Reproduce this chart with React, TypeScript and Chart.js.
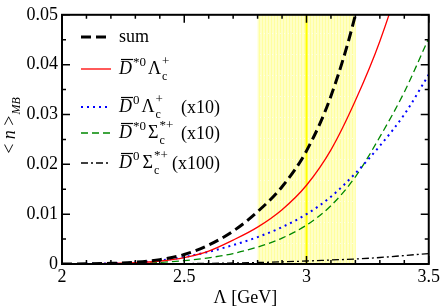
import React, { useEffect, useRef } from "react";
import { Chart, registerables } from "chart.js";

Chart.register(...registerables);

const lambdaGeV = [2.0, 2.1, 2.2, 2.3, 2.4, 2.5, 2.6, 2.7, 2.8, 2.9, 3.0, 3.1, 3.2, 3.3, 3.4, 3.5];
const sumVals = [0, 0.00003, 0.00013, 0.00037, 0.00088, 0.0019, 0.0038, 0.0066, 0.0105, 0.0155, 0.0227, 0.0337, 0.05, 0.073, 0.105, 0.15];
const dStarLambda = [0, 0.00003, 0.0001, 0.00025, 0.0006, 0.0013, 0.0026, 0.0048, 0.0074, 0.0109, 0.0158, 0.0229, 0.0328, 0.0447, 0.06, 0.08];
const dLambdaX10 = [0, 0.00003, 0.00011, 0.0003, 0.0007, 0.0014, 0.00245, 0.0038, 0.0054, 0.0074, 0.01, 0.0135, 0.0182, 0.0237, 0.03, 0.038];
const dStarSigmaX10 = [0, 0.00001, 0.00004, 0.00013, 0.00032, 0.00068, 0.00125, 0.0021, 0.0034, 0.0052, 0.0078, 0.0117, 0.0175, 0.0255, 0.0345, 0.0453];
const dSigmaX100 = [0, 0, 0, 0.00001, 0.00003, 0.00008, 0.00013, 0.0002, 0.0003, 0.00043, 0.0006, 0.0008, 0.001, 0.0013, 0.0017, 0.0021];
const bandRange = [2.8, 3.2];
const bandCenter = 3.0;
const xTickLabels = ["2", "2.5", "3", "3.5"];
const yTickLabels = ["0", "0.01", "0.02", "0.03", "0.04", "0.05"];

const SERIF = "'Liberation Serif', 'DejaVu Serif', serif";

function pts(vals: number[]) {
  return lambdaGeV.map((x, i) => ({ x, y: vals[i] }));
}

type Seg = { t: string; it?: boolean; pos?: "b" | "sup" | "sub" | "stack"; sup2?: string; over?: boolean; gap?: number };

function drawRich(ctx: CanvasRenderingContext2D, x: number, y: number, segs: Seg[]) {
  let cx = x;
  for (const s of segs) {
    if (s.gap) cx += s.gap;
    const pos = s.pos || "b";
    if (pos === "b") {
      ctx.font = `${s.it ? "italic " : ""}18px ${SERIF}`;
      ctx.fillText(s.t, cx, y);
      const w = ctx.measureText(s.t).width;
      if (s.over) {
        ctx.save();
        ctx.lineWidth = 1.2;
        ctx.beginPath();
        ctx.moveTo(cx + 2, y - 14.5);
        ctx.lineTo(cx + w + 1, y - 14.5);
        ctx.stroke();
        ctx.restore();
      }
      cx += w;
    } else if (pos === "sup") {
      ctx.font = `${s.it ? "italic " : ""}13px ${SERIF}`;
      ctx.fillText(s.t, cx + 1, y - 8);
      cx += ctx.measureText(s.t).width + 2;
    } else if (pos === "sub") {
      ctx.font = `${s.it ? "italic " : ""}12px ${SERIF}`;
      ctx.fillText(s.t, cx, y + 5);
      cx += ctx.measureText(s.t).width + 1;
    } else if (pos === "stack") {
      ctx.font = `12px ${SERIF}`;
      ctx.fillText(s.t, cx + 1, y + 6);
      const w1 = ctx.measureText(s.t).width;
      ctx.font = `13px ${SERIF}`;
      ctx.fillText(s.sup2 || "", cx + 1, y - 9);
      const w2 = ctx.measureText(s.sup2 || "").width;
      cx += Math.max(w1, w2) + 2;
    }
  }
  return cx;
}

const legendItems = [
  { color: "#000000", width: 3, dash: [10, 5], y: 37, segs: [{ t: "sum" }] as Seg[], extra: "", ex: 0 },
  {
    color: "#ff0000", width: 1.3, dash: [], y: 69,
    segs: [{ t: "D", it: true, over: true }, { t: "*0", pos: "sup" }, { t: "Λ", gap: 1 }, { t: "c", pos: "stack", sup2: "+" }] as Seg[],
    extra: "", ex: 0,
  },
  {
    color: "#0000ff", width: 2, dash: [2, 4], y: 107,
    segs: [{ t: "D", it: true, over: true }, { t: "0", pos: "sup" }, { t: "Λ", gap: 1 }, { t: "c", pos: "stack", sup2: "+" }] as Seg[],
    extra: "(x10)", ex: 181,
  },
  {
    color: "#008800", width: 1.3, dash: [7, 4], y: 133,
    segs: [{ t: "D", it: true, over: true }, { t: "*0", pos: "sup" }, { t: "Σ", gap: 1 }, { t: "c", pos: "stack", sup2: "*+" }] as Seg[],
    extra: "(x10)", ex: 181,
  },
  {
    color: "#000000", width: 1.3, dash: [7, 3, 2, 3], y: 163,
    segs: [{ t: "D", it: true, over: true }, { t: "0", pos: "sup" }, { t: "Σ", gap: 2 }, { t: "c", pos: "stack", sup2: "*+" }] as Seg[],
    extra: "(x100)", ex: 172,
  },
];

const decorPlugin = {
  id: "decor",
  beforeDatasetsDraw(chart: any) {
    const { ctx, chartArea: a, scales } = chart;
    const xs = scales.x;
    const x0 = xs.getPixelForValue(bandRange[0]);
    const x1 = xs.getPixelForValue(bandRange[1]);
    ctx.save();
    ctx.fillStyle = "#ffffc6";
    ctx.fillRect(x0, a.top, x1 - x0, a.bottom - a.top);
    ctx.strokeStyle = "rgba(255,255,130,0.55)";
    ctx.lineWidth = 1;
    for (let px = x0 + 1; px < x1; px += 3) {
      ctx.beginPath();
      ctx.moveTo(Math.round(px) + 0.5, a.top);
      ctx.lineTo(Math.round(px) + 0.5, a.bottom);
      ctx.stroke();
    }
    ctx.fillStyle = "rgba(255,255,255,0.6)";
    for (let py = a.top + 18; py < a.bottom; py += 21) {
      for (let px = x0 + 2; px < x1; px += 4) {
        ctx.fillRect(Math.round(px), Math.round(py), 1, 1);
      }
    }
    const xc = xs.getPixelForValue(bandCenter);
    ctx.strokeStyle = "#ffff00";
    ctx.lineWidth = 2;
    ctx.beginPath();
    ctx.moveTo(xc, a.top);
    ctx.lineTo(xc, a.bottom);
    ctx.stroke();
    ctx.restore();
  },
  afterDatasetsDraw(chart: any) {
    const { ctx, chartArea: a, scales } = chart;
    const xs = scales.x;
    const ys = scales.y;
    ctx.save();
    ctx.strokeStyle = "#000";
    ctx.fillStyle = "#000";
    ctx.lineWidth = 1.5;
    for (let i = 0; i <= 15; i++) {
      const v = 2 + i * 0.1;
      const px = xs.getPixelForValue(v);
      const len = i % 5 === 0 ? 8 : 4;
      ctx.beginPath();
      ctx.moveTo(px, a.bottom);
      ctx.lineTo(px, a.bottom - len);
      ctx.moveTo(px, a.top);
      ctx.lineTo(px, a.top + len);
      ctx.stroke();
    }
    for (let i = 0; i <= 10; i++) {
      const v = i * 0.005;
      const py = ys.getPixelForValue(v);
      const len = i % 2 === 0 ? 8 : 4;
      ctx.beginPath();
      ctx.moveTo(a.left, py);
      ctx.lineTo(a.left + len, py);
      ctx.moveTo(a.right, py);
      ctx.lineTo(a.right - len, py);
      ctx.stroke();
    }
    ctx.lineWidth = 2;
    ctx.strokeRect(a.left, a.top, a.right - a.left, a.bottom - a.top);

    ctx.textBaseline = "alphabetic";
    ctx.textAlign = "left";
    for (const it of legendItems) {
      ctx.save();
      ctx.strokeStyle = it.color;
      ctx.lineWidth = it.width;
      ctx.setLineDash(it.dash);
      ctx.beginPath();
      ctx.moveTo(81, it.y);
      ctx.lineTo(111, it.y);
      ctx.stroke();
      ctx.restore();
      drawRich(ctx, 119, it.y + 5, it.segs);
      if (it.extra) {
        ctx.font = `18px ${SERIF}`;
        ctx.fillText(it.extra, it.ex, it.y + 6);
      }
    }

    ctx.font = `18px ${SERIF}`;
    ctx.textAlign = "center";
    ctx.textBaseline = "alphabetic";
    ctx.fillText("Λ [GeV]", (a.left + a.right) / 2, 303);

    ctx.save();
    ctx.translate(15, 126);
    ctx.rotate(-Math.PI / 2);
    ctx.textAlign = "left";
    const segs: Seg[] = [{ t: "< " }, { t: "n", it: true }, { t: " >" }];
    ctx.font = `18px ${SERIF}`;
    let w = 0;
    w += ctx.measureText("<  >").width;
    ctx.font = `italic 18px ${SERIF}`;
    w += ctx.measureText("n").width;
    ctx.font = `italic 12px ${SERIF}`;
    w += ctx.measureText("MB").width;
    const end = drawRich(ctx, -w / 2, 0, segs);
    ctx.font = `italic 12px ${SERIF}`;
    ctx.fillText("MB", end + 1, 5);
    ctx.restore();

    ctx.restore();
  },
};

export default function App() {
  const ref = useRef<HTMLCanvasElement | null>(null);
  useEffect(() => {
    document.body.style.margin = "0";
    const canvas = ref.current;
    if (!canvas) return;
    const chart = new Chart(canvas, {
      type: "line",
      data: {
        datasets: [
          { label: "sum", data: pts(sumVals), borderColor: "#000", borderWidth: 3, borderDash: [10, 5] },
          { label: "D*0 Lc+", data: pts(dStarLambda), borderColor: "#ff0000", borderWidth: 1.3 },
          { label: "D0 Lc+ (x10)", data: pts(dLambdaX10), borderColor: "#0000ff", borderWidth: 2, borderDash: [2, 4] },
          { label: "D*0 Sc*+ (x10)", data: pts(dStarSigmaX10), borderColor: "#008800", borderWidth: 1.3, borderDash: [7, 4] },
          { label: "D0 Sc*+ (x100)", data: pts(dSigmaX100), borderColor: "#000", borderWidth: 1.3, borderDash: [7, 3, 2, 3] },
        ].map((d) => ({ ...d, pointRadius: 0, fill: false, cubicInterpolationMode: "monotone" as const })),
      },
      options: {
        responsive: false,
        animation: false,
        layout: { padding: { top: 6, right: 12, left: 0, bottom: 0 } },
        plugins: { legend: { display: false }, tooltip: { enabled: false } },
        scales: {
          x: {
            type: "linear",
            min: 2,
            max: 3.5,
            grid: { display: false, drawTicks: false },
            border: { display: false },
            ticks: {
              stepSize: 0.5,
              padding: 2,
              color: "#000",
              font: { family: SERIF, size: 18 },
              callback: (v: any) => {
                const idx = Math.round((Number(v) - 2) / 0.5);
                return xTickLabels[idx] ?? "";
              },
            },
            afterFit: (s: any) => { s.height = 42; },
          },
          y: {
            type: "linear",
            min: 0,
            max: 0.05,
            grid: { display: false, drawTicks: false },
            border: { display: false },
            ticks: {
              stepSize: 0.01,
              padding: 4,
              color: "#000",
              font: { family: SERIF, size: 18 },
              callback: (v: any) => {
                const idx = Math.round(Number(v) / 0.01);
                return yTickLabels[idx] ?? "";
              },
            },
            afterFit: (s: any) => { s.width = 62; },
          },
        },
      },
      plugins: [decorPlugin],
    });
    return () => chart.destroy();
  }, []);
  return <canvas ref={ref} width={442} height={306} style={{ display: "block" }} />;
}
